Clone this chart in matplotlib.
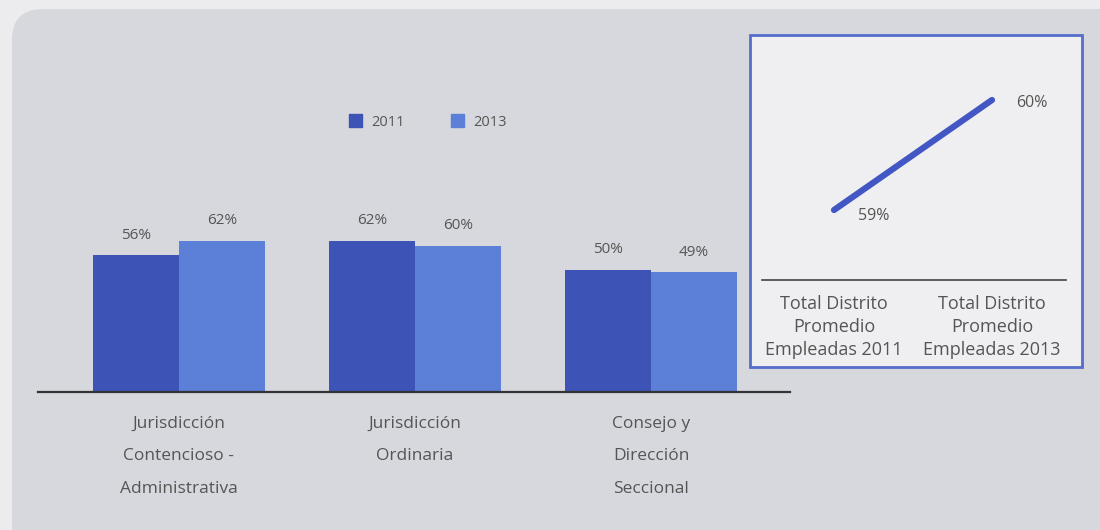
import numpy as np
import matplotlib
matplotlib.use("Agg")
import matplotlib.pyplot as plt
from matplotlib.patches import FancyBboxPatch, Rectangle, Patch

plt.rcParams['font.family'] = ['Open Sans', 'DejaVu Sans']

# datos por dependencia
categorias = ["Jurisdicción\nContencioso -\nAdministrativa",
              "Jurisdicción\nOrdinaria",
              "Consejo y\nDirección\nSeccional"]
anios = ["2011", "2013"]
valores_2011 = [56, 62, 50]
valores_2013 = [62, 60, 49]

# total distrito
total_labels = ["Total Distrito\nPromedio\nEmpleadas 2011",
                "Total Distrito\nPromedio\nEmpleadas 2013"]
total_valores = [59, 60]

c_2011 = "#3d53b6"
c_2013 = "#5c7fd7"
c_texto = "#555555"
W, H = 1100, 530

fig = plt.figure(figsize=(11, 5.3), dpi=100, facecolor="#ececee")

# panel gris de fondo con esquina redondeada
panel = FancyBboxPatch((12 / W, -0.1), 1.2, (530 - 8) / H + 0.1 - 0.002,
                       boxstyle="round,pad=0,rounding_size=0.028",
                       transform=fig.transFigure, facecolor="#d6d8dd",
                       edgecolor="none", mutation_aspect=W / H, zorder=-10)
fig.patches.append(panel)

# ---- barras ----
ax = fig.add_axes([38 / W, (530 - 392) / H, (790 - 38) / W, (392 - 99) / H])
ax.set_facecolor("none")
x = np.arange(len(categorias))
ancho = 86 / 236
b1 = ax.bar(x - ancho / 2, valores_2011, ancho, color=c_2011, label=anios[0])
b2 = ax.bar(x + ancho / 2, valores_2013, ancho, color=c_2013, label=anios[1])
for b in (b1, b2):
    ax.bar_label(b, labels=[f"{v}%" for v in b.datavalues], padding=9,
                 fontsize=11, color=c_texto)
ax.set_xlim(-141 / 236, 611 / 236)
ax.set_ylim(0, 120)
for s in ("top", "right", "left"):
    ax.spines[s].set_visible(False)
ax.spines["bottom"].set_color("#333333")
ax.spines["bottom"].set_linewidth(1.6)
ax.set_yticks([])
ax.set_xticks(x)
ax.set_xticklabels(categorias, fontsize=12.5, color=c_texto, linespacing=2.4,
                   va="top")
ax.tick_params(axis="x", length=0, pad=17)

ax.legend(handles=[Patch(color=c_2011, label=anios[0]),
                   Patch(color=c_2013, label=anios[1])],
          loc="center", bbox_to_anchor=(428 / W, 1 - 122 / H),
          bbox_transform=fig.transFigure, ncol=2, frameon=False,
          handlelength=0.9, handleheight=0.9, handletextpad=0.6,
          columnspacing=3.2, fontsize=10.5, labelcolor=c_texto)

# ---- recuadro total distrito ----
recuadro = Rectangle((750 / W, 1 - 367 / H), (1082 - 750) / W, (367 - 35) / H,
                     transform=fig.transFigure, facecolor="#efeff1",
                     edgecolor="#566dcb", linewidth=2, zorder=-5)
fig.patches.append(recuadro)

ax2 = fig.add_axes([762 / W, 1 - 280 / H, (1066 - 762) / W, (280 - 38) / H])
ax2.set_facecolor("none")
xt = np.arange(len(total_valores))
ax2.plot(xt, total_valores, color="#4257c4", linewidth=4.5,
         solid_capstyle="round")
ax2.annotate(f"{total_valores[0]}%", (xt[0], total_valores[0]),
             xytext=(40, -6), textcoords="offset pixels", ha="center",
             va="center", fontsize=11.5, color=c_texto)
ax2.annotate(f"{total_valores[1]}%", (xt[1], total_valores[1]),
             xytext=(40, -3), textcoords="offset pixels", ha="center",
             va="center", fontsize=11.5, color=c_texto)
ax2.set_xlim(-72 / 158, 232 / 158)
ax2.set_ylim(60 - 180 / 110, 60 + 62 / 110)
for s in ("top", "right", "left"):
    ax2.spines[s].set_visible(False)
ax2.spines["bottom"].set_color("#444444")
ax2.spines["bottom"].set_linewidth(1.2)
ax2.set_yticks([])
ax2.set_xticks(xt)
ax2.set_xticklabels(total_labels, fontsize=13, color=c_texto,
                    linespacing=1.36, va="top")
ax2.tick_params(axis="x", length=0, pad=11)

fig.savefig("out.png", dpi=100, facecolor=fig.get_facecolor())
